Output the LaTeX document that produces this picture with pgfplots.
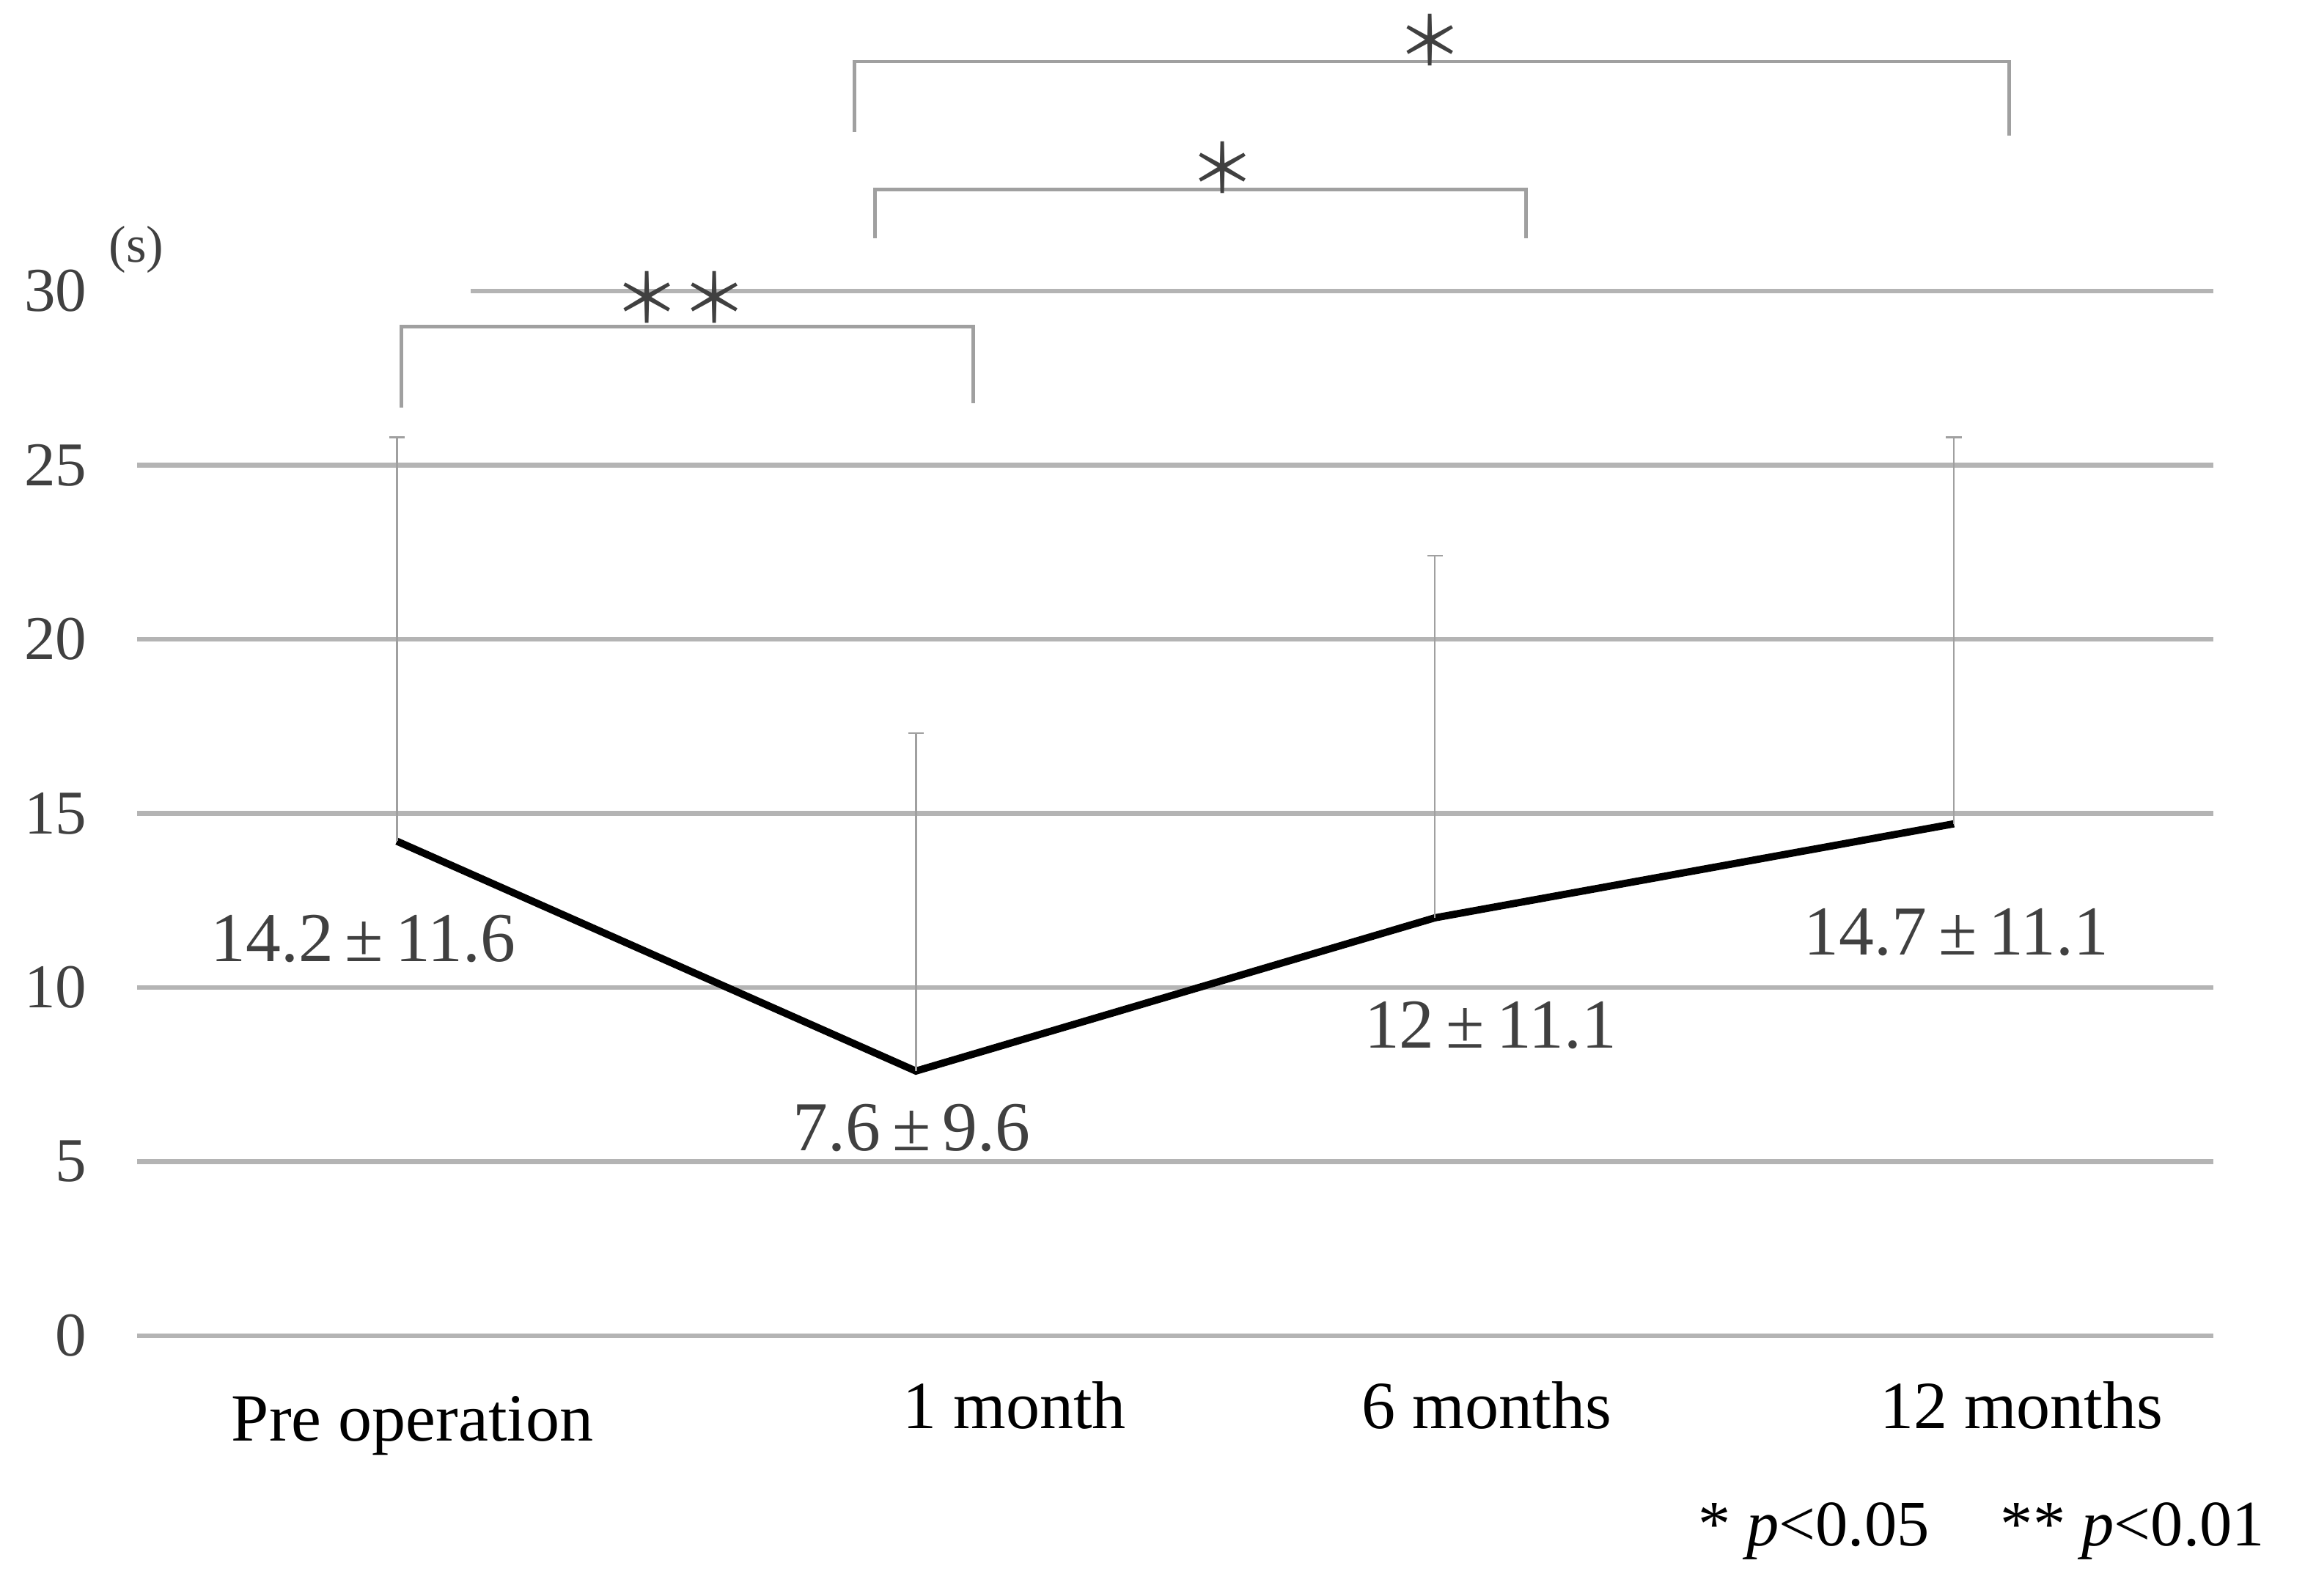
\documentclass[border=0pt]{standalone}
\usepackage{fontspec}
\setmainfont{Liberation Serif}
\newfontfamily\cjk{Noto Sans CJK JP}
\usepackage{pgfplots}
\pgfplotsset{compat=1.18}

\definecolor{gridc}{HTML}{B4B4B4}
\definecolor{brk}{HTML}{A0A0A0}
\definecolor{txt}{HTML}{404040}

\begin{document}
\begin{tikzpicture}
\useasboundingbox (0,0) rectangle (15.6cm,10.8cm);
\begin{axis}[
  at={(0.93cm,1.76cm)}, anchor=south west,
  scale only axis, width=14.05cm, height=7.07cm,
  xmin=-0.5, xmax=3.5, ymin=0, ymax=30,
  clip=false,
  axis line style={draw=none},
  major tick length=0pt,
  ytick={0,5,...,25},
  extra y ticks={30},
  extra y tick style={grid=none},
  ymajorgrids,
  grid style={gridc, line width=0.9pt},
  xtick={0.03,1.19,2.10,3.13},
  xticklabels={\raisebox{-0.08cm}{Pre operation}, 1 month, 6 months, 12 months},
  xticklabel style={font=\fontsize{13}{15}\selectfont, anchor=base, yshift=-0.63cm},
  yticklabel style={font=\fontsize{12}{14}\selectfont, text=txt, xshift=-0.22cm},
  /pgf/number format/assume math mode=true,
]

% mean values with upward SD bars
\addplot[black, line width=1.4pt, mark=none,
  error bars/.cd, y dir=plus, y explicit,
  error bar style={brk, line width=0.35pt},
  error mark options={rotate=90, brk, mark size=1.5pt, line width=0.35pt}]
coordinates {
  (0,14.2) +- (0,11.6)
  (1,7.6)  +- (0,9.7)
  (2,12.0) +- (0,10.4)
  (3,14.7) +- (0,11.1)
};

% top gridline (partly hidden in the original)
\draw[gridc, line width=0.9pt] (axis cs:0.142,30) -- (axis cs:3.5,30);

% value labels
\begin{scope}[every node/.style={font=\fontsize{13.5}{15}\selectfont, text=txt}]
\node at (axis cs:-0.065,11.4) {14.2\,±\,11.6};
\node at (axis cs:0.992,5.96) {7.6\,±\,9.6};
\node at (axis cs:2.107,8.91) {12\,±\,11.1};
\node at (axis cs:3.005,11.58) {14.7\,±\,11.1};
\end{scope}

\node[font=\fontsize{10}{12}\selectfont, text=txt] at (axis cs:-0.502,31.2) {(s)};

% significance brackets
\draw[brk, line width=0.7pt] (axis cs:0.0085,26.66) |- (axis cs:1.111,28.98) -- (axis cs:1.111,26.78);
\draw[brk, line width=0.7pt] (axis cs:0.921,31.52) |- (axis cs:2.175,32.91) -- (axis cs:2.175,31.52);
\draw[brk, line width=0.7pt] (axis cs:0.882,34.56) |- (axis cs:3.107,36.59) -- (axis cs:3.107,34.47);
\begin{scope}[every node/.style={font=\cjk\fontsize{13}{13}\selectfont, text=txt}]
\node at (axis cs:0.547,29.83) {＊＊};
\node at (axis cs:1.591,33.54) {＊};
\node at (axis cs:1.990,37.22) {＊};
\end{scope}
\end{axis}

\node[anchor=base east, font=\fontsize{12.5}{14}\selectfont] at (15.45cm,0.34cm)
  {* \textit{p}<0.05\hspace{1.1em}** \textit{p}<0.01};
\end{tikzpicture}
\end{document}
